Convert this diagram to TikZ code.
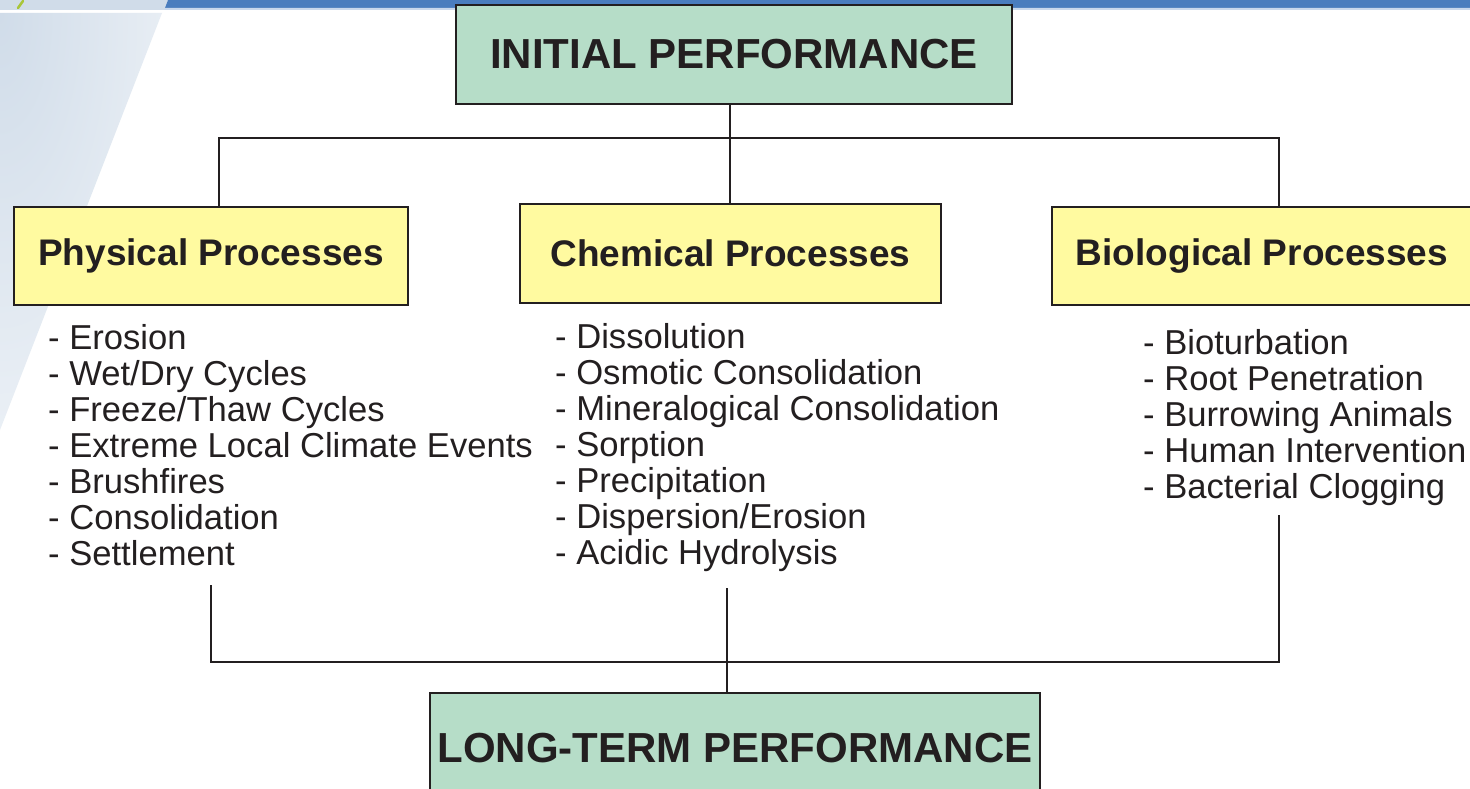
\documentclass[tikz,border=0pt]{standalone}
\usepackage{fontspec}
\setmainfont{Liberation Sans}
\definecolor{ink}{HTML}{231F20}
\definecolor{boxgreen}{HTML}{B6DDC8}
\definecolor{boxyellow}{HTML}{FFFAA0}
\definecolor{barblue}{HTML}{4A7DBE}
\definecolor{barlight}{HTML}{C9D8EC}
\definecolor{panelblue}{HTML}{D0DCE9}
\definecolor{leaf}{HTML}{A9C63A}
\begin{document}
\begin{tikzpicture}[x=1pt,y=-1pt,
  perfbox/.style={draw=ink, line width=1.6pt, fill=boxgreen, text=ink, inner sep=0pt,
    font=\fontsize{42}{48}\selectfont\bfseries},
  procbox/.style={draw=ink, line width=1.4pt, fill=boxyellow, text=ink, inner sep=0pt,
    font=\fontsize{37}{42}\selectfont\bfseries},
  itemlist/.style={anchor=north west, align=left, inner sep=0pt, text=ink,
    font=\fontsize{34.6}{36}\selectfont},
  conn/.style={draw=ink, line width=1.3pt}]

\clip (0,0) rectangle (1470,789);
\fill[white] (0,0) rectangle (1470,789);

% header decoration
\begin{scope}
  \clip (0,13) -- (162,13) -- (0,430) -- cycle;
  \shade[inner color=panelblue, outer color=white] (0,13) ellipse (330 and 760);
\end{scope}
\fill[panelblue] (0,0) -- (168,0) -- (165,10) -- (0,10) -- cycle;
\fill[barblue] (168,0) -- (1470,0) -- (1470,8) -- (165,8) -- cycle;
\fill[barlight] (165,8) -- (1470,8) -- (1470,10) -- (164.5,10) -- cycle;
\draw[leaf, line width=2.5pt, line cap=round] (18,8) -- (23,1);

% boxes
\node[perfbox, minimum width=556pt, minimum height=99pt] (init) at (734,54.5) {INITIAL PERFORMANCE};
\node[procbox, minimum width=394pt, minimum height=98pt] (phys) at (211,256) {Physical Processes};
\node[procbox, minimum width=421pt, minimum height=99pt] (chem) at (730.5,253.5) {Chemical Processes};
\node[procbox, minimum width=420pt, minimum height=98pt] (bio) at (1262,256) {Biological Processes};
\node[perfbox, minimum width=610pt, minimum height=110pt] (lt) at (735,748) {LONG-TERM PERFORMANCE};

% lists
\node[itemlist] (physlist) at (48,324) {- Erosion\\- Wet/Dry Cycles\\- Freeze/Thaw Cycles\\- Extreme Local Climate Events\\- Brushfires\\- Consolidation\\- Settlement};
\node[itemlist] (chemlist) at (555,323) {- Dissolution\\- Osmotic Consolidation\\- Mineralogical Consolidation\\- Sorption\\- Precipitation\\- Dispersion/Erosion\\- Acidic Hydrolysis};
\node[itemlist] (biolist) at (1143,329) {- Bioturbation\\- Root Penetration\\- Burrowing Animals\\- Human Intervention\\- Bacterial Clogging};

% upper connectors
\coordinate (tl) at (219,138);
\coordinate (tr) at (1279,138);
\coordinate (tm) at (730,138);
\draw[conn] (tl |- phys.north) -- (tl) -- (tr) -- (tr |- bio.north);
\draw[conn] (tm |- init.south) -- (tm |- chem.north);

% lower connectors
\coordinate (pe) at (211,585);
\coordinate (be) at (1279,515);
\coordinate (ce) at (727,588);
\coordinate (bl) at (211,662);
\coordinate (br) at (1279,662);
\draw[conn] (pe) -- (bl) -- (br) -- (be);
\draw[conn] (ce) -- (ce |- lt.north);
\end{tikzpicture}
\end{document}
